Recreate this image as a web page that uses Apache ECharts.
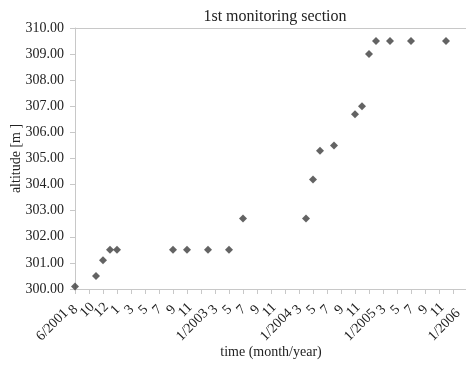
<!DOCTYPE html>
<html>
<head>
<meta charset="utf-8">
<script src="https://cdn.jsdelivr.net/npm/echarts@6/dist/echarts.min.js"></script>
<style>html,body{margin:0;padding:0;background:#fff}#c{width:466px;height:366px}</style>
</head>
<body>
<div id="c"></div>
<script>
// months since 6/2001
const monthsFromStart = [0, 3, 4, 5, 6, 14, 16, 19, 22, 24, 33, 34, 35, 37, 40, 41, 42, 43, 45, 48, 53];
const altitude = [300.1, 300.5, 301.1, 301.5, 301.5, 301.5, 301.5, 301.5, 301.5, 302.7, 302.7, 304.2, 305.3, 305.5, 306.7, 307.0, 309.0, 309.5, 309.5, 309.5, 309.5];
// one tick label every two months
const tickLabels = ['6/2001','8','10','12','1','3','5','7','9','11','1/2003','3','5','7','9','11','1/2004','3','5','7','9','11','1/2005','3','5','7','9','11','1/2006'];
const yMin = 300, yMax = 310, yStep = 1;

const monthCats = [];
for (let k = 0; k <= (tickLabels.length - 1) * 2; k++) monthCats.push('m' + k);

const serif = 'Liberation Serif';
const chart = echarts.init(document.getElementById('c'), null, {renderer: 'canvas'});
chart.setOption({
  animation: false,
  backgroundColor: '#fff',
  title: {
    text: '1st monitoring section',
    left: 270, textAlign: 'center', top: 4,
    textStyle: {fontFamily: serif, fontSize: 16, fontWeight: 'normal', color: '#222'}
  },
  grid: {left: 75, right: -1, top: 28, bottom: 77, containLabel: false, outerBoundsMode: 'none'},
  xAxis: [{
    type: 'category', data: monthCats, boundaryGap: false,
    name: 'time (month/year)', nameLocation: 'middle', nameGap: 56, nameMoveOverlap: false,
    nameTextStyle: {fontFamily: serif, fontSize: 14, color: '#222'},
    axisLine: {show: true, lineStyle: {color: '#c8c8c8', width: 1}},
    axisTick: {show: true, interval: 1, length: 5, lineStyle: {color: '#c8c8c8'}},
    splitLine: {show: false},
    axisLabel: {
      interval: 0, rotate: 45, margin: 21, align: 'center', verticalAlign: 'middle',
      fontFamily: serif, fontSize: 14, color: '#222',
      formatter: (v, i) => {
        if (i % 2) return '';
        const t = tickLabels[i / 2];
        return t.length > 2 ? '{l|' + t + '}' : '{s|' + t + '}';
      },
      rich: {
        s: {fontFamily: serif, fontSize: 14, color: '#222', padding: [0, 22, 22, 0]},
        l: {fontFamily: serif, fontSize: 14, color: '#222', padding: [0, 53, 11, 0]}
      }
    }
  }, {
    type: 'value', position: 'top', min: 0, max: 1,
    axisLine: {show: true, onZero: false, lineStyle: {color: '#c8c8c8', width: 1}},
    axisTick: {show: false}, axisLabel: {show: false}, splitLine: {show: false}
  }],
  yAxis: {
    type: 'value', min: yMin, max: yMax, interval: yStep,
    name: 'altitude [m ]', nameLocation: 'middle', nameGap: 52, nameMoveOverlap: false,
    nameTextStyle: {fontFamily: serif, fontSize: 14, color: '#222'},
    axisLine: {show: true, lineStyle: {color: '#c8c8c8', width: 1}},
    axisTick: {show: true, length: 5, lineStyle: {color: '#c8c8c8'}},
    splitLine: {show: false},
    axisLabel: {fontFamily: serif, fontSize: 14, color: '#222', margin: 11, formatter: v => v.toFixed(2)}
  },
  series: [{
    type: 'scatter',
    symbol: 'diamond', symbolSize: 8,
    itemStyle: {color: '#3c3c3c'},
    data: monthsFromStart.map((m, i) => [m, altitude[i]])
  }]
});
</script>
</body>
</html>
